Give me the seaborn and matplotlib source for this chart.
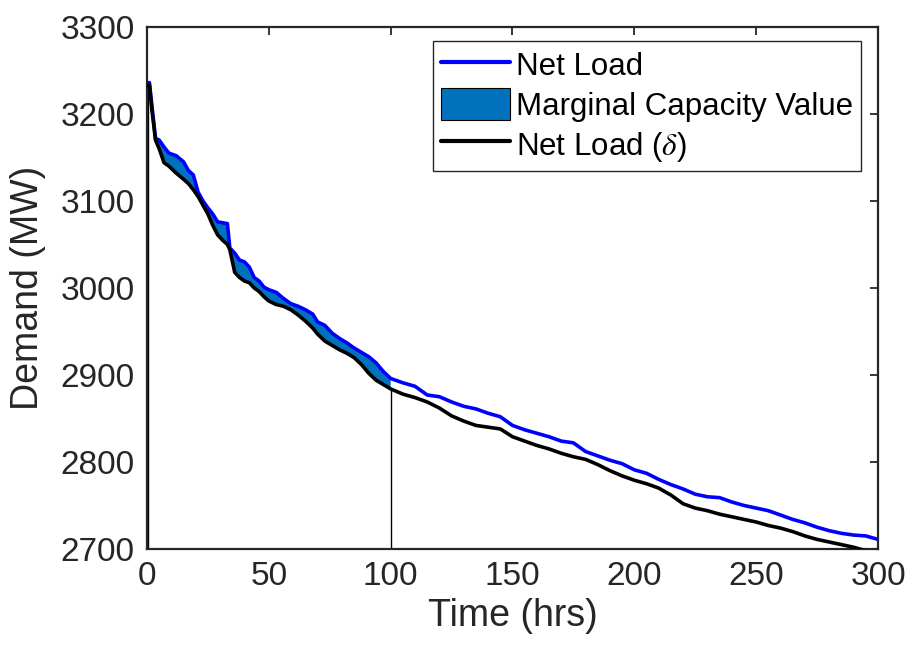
import numpy as np
import pandas as pd
import matplotlib
matplotlib.use("Agg")
import matplotlib.pyplot as plt
from matplotlib.patches import Patch
from matplotlib.lines import Line2D
import seaborn as sns

# hours of the sorted load duration curve
hours = [0, 1, 2, 3.5, 5, 7, 9, 12, 15, 17, 19, 21, 23, 25, 27, 29, 31, 33, 34,
         36, 38, 40, 42, 44, 46, 48, 50, 53, 56, 59, 62, 65, 68, 70, 73, 76, 79,
         82, 85, 88, 91, 94, 97, 100,
         105, 110, 115, 120, 125, 130, 135, 140, 145, 150, 155, 160, 165, 170,
         175, 180, 185, 190, 195, 200, 205, 210, 215, 220, 225, 230, 235, 240,
         245, 250, 255, 260, 265, 270, 275, 280, 285, 290, 295, 300]

net_load = [3236, 3236, 3210, 3172, 3170, 3162, 3155, 3152, 3145, 3135, 3130,
            3110, 3100, 3092, 3085, 3076, 3075, 3074, 3046,
            3040, 3032, 3030, 3024, 3012, 3008, 3001, 2998, 2995, 2988, 2982,
            2979, 2975, 2970, 2961, 2957, 2948, 2942, 2937, 2931, 2926, 2921,
            2914, 2904, 2896,
            2891, 2887, 2877, 2875, 2869, 2864, 2861, 2856, 2852, 2842, 2837,
            2833, 2829, 2824, 2822, 2812, 2807, 2802, 2798, 2791, 2787, 2780,
            2774, 2769, 2763, 2760, 2759, 2754, 2750, 2747, 2744, 2739, 2734,
            2730, 2725, 2721, 2718, 2716, 2715, 2711]

net_load_delta = [3233, 3233, 3205, 3170, 3160, 3144, 3140, 3132, 3125, 3120,
                  3113, 3105, 3095, 3085, 3072, 3061, 3055, 3050, 3044,
                  3018, 3012, 3008, 3006, 3000, 2996, 2990, 2985, 2981, 2979,
                  2975, 2969, 2962, 2954, 2947, 2939, 2934, 2929, 2925, 2920,
                  2912, 2902, 2894, 2889, 2884,
                  2878, 2874, 2869, 2862, 2853, 2847, 2842, 2840, 2838, 2829,
                  2824, 2819, 2815, 2810, 2806, 2803, 2797, 2790, 2784, 2779,
                  2775, 2770, 2762, 2752, 2747, 2744, 2740, 2737, 2734, 2731,
                  2727, 2724, 2720, 2715, 2711, 2708, 2705, 2702, 2698, 2695]

shade_end = 100  # marginal capacity window (hrs)

df = pd.DataFrame({"hours": hours, "net": net_load, "delta": net_load_delta})

sns.set_theme(style="white")
plt.rcParams["font.family"] = ["Liberation Sans", "DejaVu Sans"]
plt.rcParams["mathtext.fontset"] = "stix"

fig = plt.figure(figsize=(9.09, 6.47), dpi=100)
ax = fig.add_axes([0.1617, 0.1515, 0.8042, 0.8068])

win = df[df["hours"] <= shade_end]
ax.fill_between(win["hours"], win["delta"], win["net"], facecolor="#0072BD",
                edgecolor="none", zorder=2)
ax.vlines([0.6, shade_end], 2700, [win["delta"].iloc[0], win["delta"].iloc[-1]],
          color="black", linewidth=1.0, zorder=2)

sns.lineplot(data=df, x="hours", y="net", color="#0000FF", linewidth=2.6,
             ax=ax, zorder=3)
sns.lineplot(data=df, x="hours", y="delta", color="black", linewidth=2.6,
             ax=ax, zorder=3)

ax.set_xlim(0, 300)
ax.set_ylim(2700, 3300)
ax.set_xticks(np.arange(0, 301, 50))
ax.set_yticks(np.arange(2700, 3301, 100))
ax.set_xlabel("Time (hrs)", fontsize=27, color="#262626", labelpad=4)
ax.set_ylabel("Demand (MW)", fontsize=27, color="#262626", labelpad=10)
ax.tick_params(axis="both", which="both", direction="in", length=6, width=1.3,
               labelsize=24, colors="#262626", top=True, right=True, pad=9)
for s in ax.spines.values():
    s.set_visible(True)
    s.set_color("#262626")
    s.set_linewidth(1.6)

handles = [Line2D([], [], color="#0000FF", linewidth=3),
           Patch(facecolor="#0072BD", edgecolor="black", linewidth=0.8),
           Line2D([], [], color="black", linewidth=3)]
labels = ["Net Load", "Marginal Capacity Value", r"Net Load ($\delta$)"]
leg = ax.legend(handles, labels, loc="upper right", bbox_to_anchor=(0.977, 0.974),
                fontsize=22.5, frameon=True, fancybox=False, framealpha=1,
                borderpad=0.25, labelspacing=0.2, handlelength=2.2,
                handleheight=1.2, handletextpad=0.2, borderaxespad=0,
                labelcolor="black")
leg.get_frame().set_edgecolor("#262626")
leg.get_frame().set_linewidth(1.0)

fig.savefig("out.png", dpi=100)
